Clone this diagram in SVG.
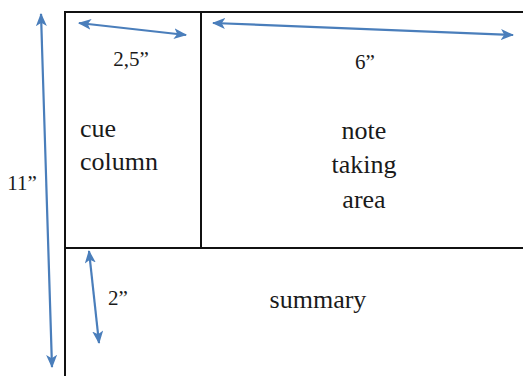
<svg xmlns="http://www.w3.org/2000/svg" width="523" height="376" viewBox="0 0 523 376">
<defs>
<marker id="ah" viewBox="0 0 12 10" refX="11" refY="5" markerWidth="6" markerHeight="5" orient="auto-start-reverse" markerUnits="strokeWidth">
<path d="M0,0 L12,5 L0,10 L3,5 Z" fill="#4A7EBB"/>
</marker>
</defs>
<g id="frame" stroke="#111" stroke-width="2" fill="none">
<path d="M65,376 V12 H523"/>
<path d="M65,248 H523"/>
<path d="M201,12 V248"/>
</g>
<g font-family="Liberation Serif" font-size="26" fill="#1a1a1a">
<g id="cue-column"><text x="80" y="137">cue</text><text x="80" y="170">column</text></g>
<g id="note-taking-area" text-anchor="middle"><text x="364" y="139">note</text><text x="364" y="173">taking</text><text x="364" y="208">area</text></g>
<g id="summary"><text x="318" y="308" text-anchor="middle">summary</text></g>
</g>
<g id="connectors" stroke="#4A7EBB" stroke-width="2.2" fill="none" marker-start="url(#ah)" marker-end="url(#ah)">
<line x1="41" y1="14" x2="52" y2="367"/>
<line x1="79" y1="23" x2="186" y2="35"/>
<line x1="213" y1="23" x2="513" y2="35"/>
<line x1="89" y1="251" x2="99" y2="343"/>
</g>
<g id="labels" font-family="Liberation Serif" font-size="21" fill="#1a1a1a" text-anchor="middle">
<text x="131" y="66">2,5”</text>
<text x="365" y="69">6”</text>
<text x="22" y="190">11”</text>
<text x="118" y="305">2”</text>
</g>
</svg>
